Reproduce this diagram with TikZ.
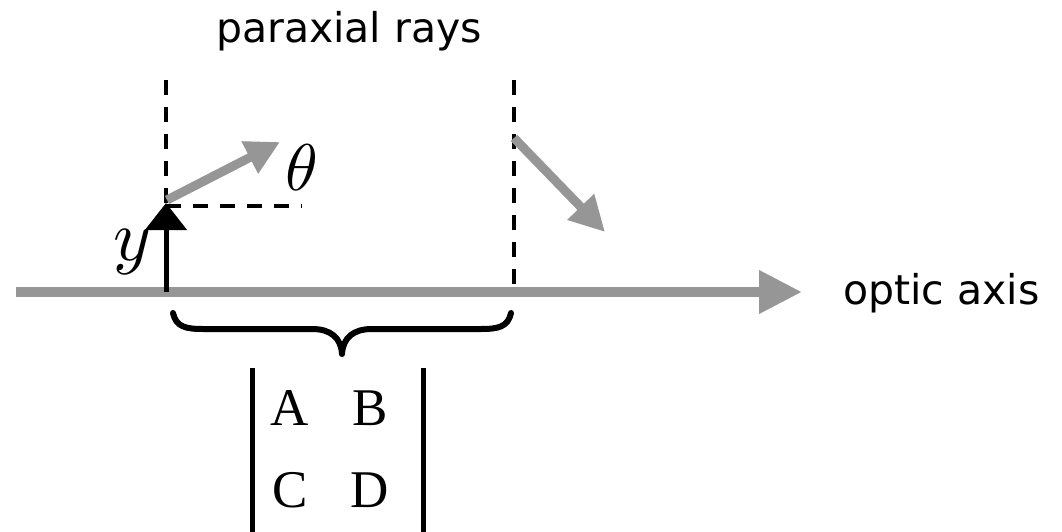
\documentclass[tikz,border=0pt]{standalone}
\usepackage{graphicx}
\usepackage{fontspec}
\setmainfont{DejaVu Sans}
\newfontfamily\timesf{Liberation Serif}
\usetikzlibrary{arrows.meta}
\definecolor{raygray}{RGB}{150,150,150}
\begin{document}
\begin{tikzpicture}[x=1pt,y=-1pt,
  lbl/.style={inner sep=0pt,font=\fontsize{41}{48}\selectfont},
  mat/.style={inner sep=0pt,anchor=base,font=\timesf\fontsize{53}{60}\selectfont},
  dash line/.style={line width=3.5pt,dash pattern=on 15pt off 12pt},
  ray/.style={raygray,line width=9pt},
  bar/.style={line width=5pt}]
\useasboundingbox (0,0) rectangle (1062,532);
% coordinates
\coordinate (axs) at (16,292);
\coordinate (axe) at (802,292);
\coordinate (ybase) at (166,292);
\coordinate (ytip) at (166,203);
\coordinate (ltop) at (166,80);
\coordinate (rtop) at (514,80);
\coordinate (rbot) at (514,292);
\coordinate (hend) at (302,206);
\coordinate (hstart) at (166,206);
\coordinate (tstart) at (167,200);
\coordinate (ttip) at (280,142);
\coordinate (rstart) at (514,138);
\coordinate (rtip) at (605,232);
% labels
\node[lbl,anchor=base] (para) at (349,43) {paraxial rays};
\node[lbl,anchor=base west] (optic) at (843,304) {optic axis};
\node[inner sep=0pt] (theta) at (302,168) {\scalebox{6.6}{$\theta$}};
\node[inner sep=0pt] (ylab) at (132,252) {\scalebox{7.2}{$y$}};
% dashed lines
\draw[dash line] (ltop) -- (ytip);
\draw[dash line] (rtop) -- (rbot);
\draw[dash line] (hstart) -- (hend);
% optic axis
\draw[raygray,line width=10pt,-{Triangle[length=43pt,width=41pt]}] (axs) -- (axe);
% y arrow
\draw[line width=5pt,-{Triangle[length=27pt,width=41pt]}] (ybase) -- (ytip);
% rays
\draw[ray,-{Triangle[length=34pt,width=34pt]}] (tstart) -- (ttip);
\draw[ray,-{Triangle[length=35pt,width=35pt]}] (rstart) -- (rtip);
% brace
\draw[line width=6pt,line cap=round,line join=round]
  (173,313) .. controls (176,327) and (186,329) .. (203,329)
  -- (312,329) .. controls (331,329) and (341,338) .. (342,354)
  .. controls (343,338) and (353,329) .. (372,329)
  -- (481,329) .. controls (498,329) and (508,327) .. (511,313);
% matrix
\draw[bar] (252,368) -- (252,532);
\draw[bar] (423,368) -- (423,532);
\node[mat] (A) at (290,425) {A};
\node[mat] (B) at (370,425) {B};
\node[mat] (C) at (290,507) {C};
\node[mat] (D) at (370,507) {D};
\end{tikzpicture}
\end{document}
